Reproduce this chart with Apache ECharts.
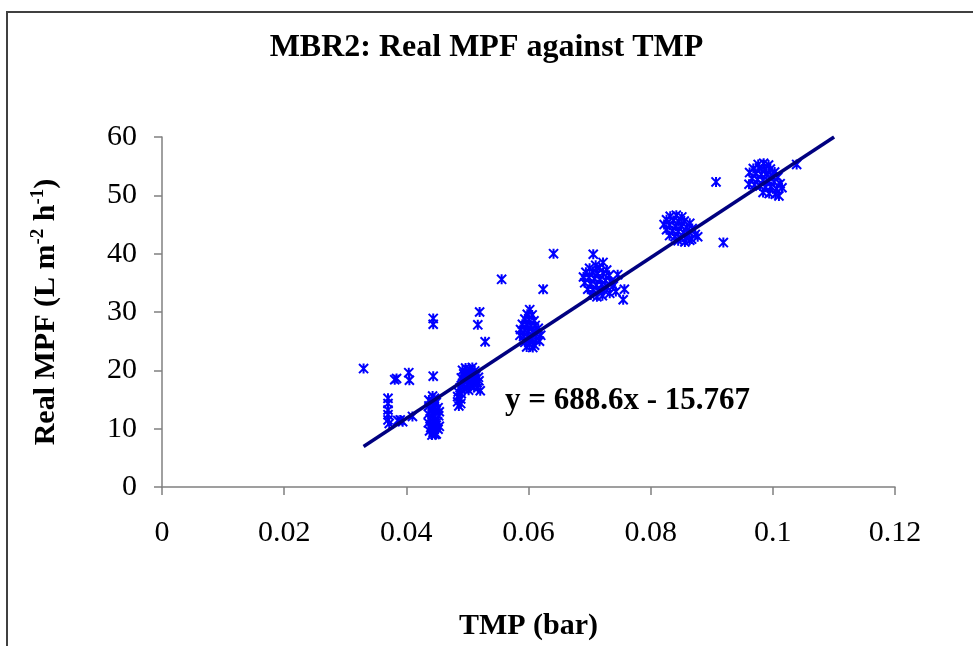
<!DOCTYPE html>
<html>
<head>
<meta charset="utf-8">
<script src="https://cdn.jsdelivr.net/npm/echarts@6/dist/echarts.min.js"></script>
<style>
html,body{margin:0;padding:0;background:#fff;}
#chart{width:973px;height:646px;}
</style>
</head>
<body>
<div id="chart"></div>
<script>
// ---- data ----
const xTicks = [0, 0.02, 0.04, 0.06, 0.08, 0.1, 0.12];
const yTicks = [0, 10, 20, 30, 40, 50, 60];

const lowGroup = [[0.0330,20.3],[0.0370,15.2],[0.0370,14.3],[0.0370,13.2],[0.0370,12.4],[0.0370,11.5],[0.0372,10.9],[0.0381,18.4],[0.0384,18.6],[0.0386,11.4],[0.0390,11.5],[0.0394,11.2],[0.0404,19.6],[0.0405,18.3],[0.0410,12.1]];
const group045 = [[0.0444,28.9],[0.0444,27.9],[0.0444,19.0],[0.0443,15.6],[0.0446,15.2],[0.0440,14.6],[0.0449,14.5],[0.0437,13.9],[0.0445,13.8],[0.0452,13.6],[0.0441,13.1],[0.0448,12.9],[0.0436,12.5],[0.0444,12.3],[0.0453,12.2],[0.0439,11.7],[0.0447,11.6],[0.0451,11.2],[0.0436,11.0],[0.0443,10.8],[0.0449,10.6],[0.0440,10.2],[0.0446,10.0],[0.0452,9.9],[0.0438,9.6],[0.0444,9.3],[0.0449,9.1],[0.0442,8.9],[0.0447,9.0],[0.0454,10.4],[0.0454,12.9],[0.0437,14.9]];
const group050 = [[0.0492,20.0],[0.0497,20.4],[0.0503,20.2],[0.0508,20.5],[0.0512,19.9],[0.0494,19.4],[0.0500,19.3],[0.0506,19.5],[0.0514,19.1],[0.0518,18.8],[0.0490,18.7],[0.0496,18.5],[0.0502,18.6],[0.0509,18.3],[0.0516,17.9],[0.0492,17.8],[0.0499,17.6],[0.0505,17.4],[0.0511,17.1],[0.0517,17.0],[0.0488,17.0],[0.0495,16.8],[0.0502,16.6],[0.0485,16.3],[0.0490,16.0],[0.0484,15.5],[0.0489,15.1],[0.0484,14.6],[0.0489,14.3],[0.0486,13.9],[0.0521,16.5],[0.0519,18.2],[0.0520,30.0],[0.0517,27.8],[0.0529,24.9]];
const group060 = [[0.0602,30.4],[0.0598,29.6],[0.0606,29.5],[0.0594,28.8],[0.0601,28.7],[0.0609,28.5],[0.0590,27.9],[0.0597,27.8],[0.0604,27.6],[0.0611,27.7],[0.0616,27.2],[0.0587,27.0],[0.0594,26.9],[0.0600,26.7],[0.0607,26.5],[0.0613,26.3],[0.0620,26.0],[0.0586,26.0],[0.0592,25.8],[0.0599,25.6],[0.0605,25.4],[0.0612,25.2],[0.0618,25.0],[0.0594,24.8],[0.0602,24.5],[0.0610,24.3],[0.0597,24.0],[0.0607,23.9],[0.0624,33.9],[0.0641,40.0],[0.0556,35.6]];
const group072 = [[0.0706,39.9],[0.0722,38.5],[0.0710,38.0],[0.0700,37.5],[0.0716,37.6],[0.0728,37.2],[0.0694,36.8],[0.0705,36.9],[0.0713,36.6],[0.0722,36.7],[0.0732,36.3],[0.0690,36.0],[0.0699,35.9],[0.0708,35.7],[0.0717,35.6],[0.0726,35.4],[0.0735,35.2],[0.0692,35.0],[0.0702,34.8],[0.0711,34.6],[0.0720,34.7],[0.0729,34.3],[0.0739,34.5],[0.0697,33.9],[0.0706,33.8],[0.0715,33.5],[0.0724,33.7],[0.0733,33.2],[0.0702,32.9],[0.0712,32.6],[0.0721,32.8],[0.0743,33.5],[0.0755,32.1],[0.0757,33.9],[0.0746,36.4]];
const group085 = [[0.0832,46.4],[0.0842,46.6],[0.0851,46.3],[0.0826,45.8],[0.0837,45.7],[0.0846,45.5],[0.0855,45.6],[0.0864,45.2],[0.0822,45.0],[0.0831,44.9],[0.0841,44.7],[0.0850,44.8],[0.0859,44.5],[0.0868,44.3],[0.0826,44.1],[0.0836,43.9],[0.0845,43.8],[0.0854,43.6],[0.0863,43.7],[0.0873,43.3],[0.0831,43.1],[0.0840,42.9],[0.0849,42.7],[0.0858,42.8],[0.0867,42.5],[0.0877,42.9],[0.0845,42.2],[0.0856,42.0],[0.0864,42.3],[0.0919,41.9]];
const group098 = [[0.0976,55.3],[0.0985,55.5],[0.0993,55.2],[0.0968,54.6],[0.0978,54.7],[0.0987,54.4],[0.0996,54.5],[0.1003,54.0],[0.0962,53.9],[0.0972,53.8],[0.0981,53.6],[0.0990,53.7],[0.0999,53.3],[0.1008,53.1],[0.0966,52.9],[0.0975,52.7],[0.0984,52.6],[0.0993,52.4],[0.1002,52.3],[0.1012,52.0],[0.0961,51.9],[0.0970,51.8],[0.0979,51.6],[0.0988,51.4],[0.0997,51.5],[0.1006,51.1],[0.1015,51.3],[0.0984,50.5],[0.0994,50.3],[0.1004,50.2],[0.1010,49.9],[0.1039,55.3],[0.0907,52.3]];

const slope = 688.6;
const intercept = -15.767;
const trendXStart = 0.033;
const equationText = 'y = 688.6x - 15.767';

// ---- build ----
const points = [].concat(lowGroup, group045, group050, group060, group072, group085, group098);
const yMax = yTicks[yTicks.length - 1];
const trendXEnd = (yMax - intercept) / slope;
const trend = [[trendXStart, slope * trendXStart + intercept], [trendXEnd, slope * trendXEnd + intercept]];

const serif = '"Liberation Serif", "Times New Roman", serif';
const axisGray = '#808080';
const starPath = 'path://M-1,-1L1,1M-1,1L1,-1M0,-1.1L0,1.1';

const chart = echarts.init(document.getElementById('chart'), null, {renderer: 'canvas'});
chart.setOption({
  animation: false,
  backgroundColor: '#fff',
  title: {
    text: 'MBR2: Real MPF against TMP',
    left: 'center',
    top: 27,
    textStyle: {fontFamily: serif, fontWeight: 'bold', fontSize: 32, color: '#000'}
  },
  grid: {left: 162, right: 78, top: 137, bottom: 157},
  xAxis: {
    type: 'value',
    min: xTicks[0], max: xTicks[xTicks.length - 1], interval: 0.02,
    name: 'TMP (bar)',
    nameLocation: 'middle',
    nameGap: 124,
    nameTextStyle: {fontFamily: serif, fontWeight: 'bold', fontSize: 30, color: '#000'},
    axisLine: {show: true, lineStyle: {color: axisGray, width: 1.5}},
    axisTick: {show: true, inside: false, length: 8, lineStyle: {color: axisGray, width: 1.5}},
    splitLine: {show: false},
    axisLabel: {
      margin: 31,
      fontFamily: serif, fontSize: 30, color: '#000',
      formatter: v => String(+v.toFixed(2))
    }
  },
  yAxis: {
    type: 'value',
    min: yTicks[0], max: yMax, interval: 10,
    name: '{n|Real MPF (L m}{s|-2}{n| h}{s|-1}{n|)}',
    nameLocation: 'middle',
    nameRotate: 90,
    nameGap: 101,
    nameTextStyle: {
      fontFamily: serif, fontWeight: 'bold', fontSize: 30, color: '#000',
      rich: {
        n: {fontFamily: serif, fontWeight: 'bold', fontSize: 30, color: '#000', verticalAlign: 'bottom'},
        s: {fontFamily: serif, fontWeight: 'bold', fontSize: 19, color: '#000', verticalAlign: 'bottom', padding: [0, 0, 13, 0]}
      }
    },
    axisLine: {show: true, lineStyle: {color: axisGray, width: 1.5}},
    axisTick: {show: true, inside: false, length: 8, lineStyle: {color: axisGray, width: 1.5}},
    splitLine: {show: false},
    axisLabel: {margin: 25, fontFamily: serif, fontSize: 30, color: '#000'}
  },
  graphic: [
    {type: 'rect', shape: {x: 7, y: 12, width: 1000, height: 700}, style: {fill: 'none', stroke: '#404040', lineWidth: 2}, z: 100, silent: true},
    {type: 'text', x: 505, y: 401, style: {text: equationText, fontFamily: serif, fontWeight: 'bold', fontSize: 31, fill: '#000', textAlign: 'left', textVerticalAlign: 'middle'}, z: 100}
  ],
  series: [
    {
      type: 'scatter',
      data: points,
      symbol: starPath,
      symbolSize: 10,
      symbolKeepAspect: true,
      itemStyle: {color: '#0000ff', borderColor: '#0000ff', borderWidth: 2, opacity: 1},
      z: 2
    },
    {
      type: 'line',
      data: trend,
      symbol: 'none',
      lineStyle: {color: '#000080', width: 3.5},
      z: 3
    }
  ]
});
</script>
</body>
</html>
